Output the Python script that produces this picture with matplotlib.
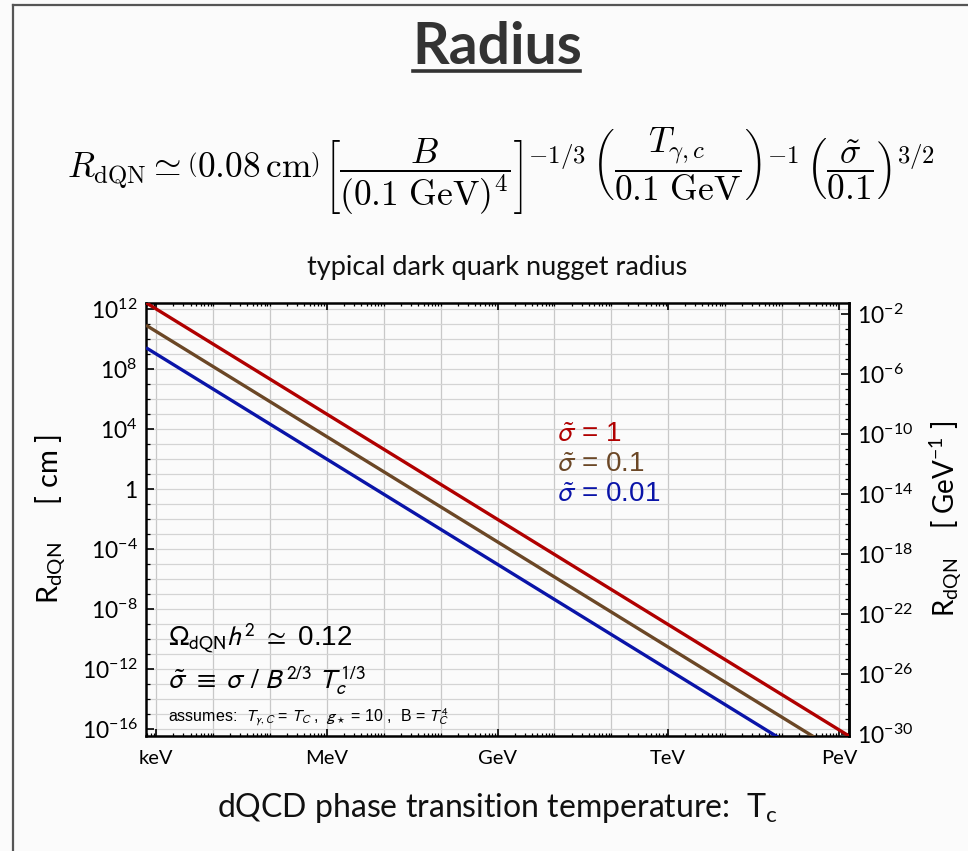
import matplotlib
matplotlib.use("Agg")
from matplotlib import pyplot as plt
from matplotlib import ticker
from matplotlib.lines import Line2D

plt.rcParams['mathtext.fontset'] = 'custom'
plt.rcParams['mathtext.rm'] = 'Lato'
plt.rcParams['mathtext.it'] = 'Lato:italic'
plt.rcParams['mathtext.bf'] = 'Lato:bold'
plt.rcParams['font.family'] = ['Lato', 'DejaVu Sans']

# data (Tc in GeV, R in cm), values at the plot edges
t_edges = [6.6e-7, 1.51e6]
r_sigma_1 = [2.75e12, 3.5e-17]
r_sigma_01 = [8.7e10, 1.1e-18]
r_sigma_001 = [2.75e9, 3.5e-20]
series_labels = [r'$\tilde{\sigma}$ = 1', r'$\tilde{\sigma}$ = 0.1', r'$\tilde{\sigma}$ = 0.01']
series_colors = ['#b00000', '#6b4726', '#0a14a8']

x_ticks = [1e-6, 1e-3, 1.0, 1e3, 1e6]
x_tick_labels = ['keV', 'MeV', 'GeV', 'TeV', 'PeV']
y_ticks = [1e12, 1e8, 1e4, 1.0, 1e-4, 1e-8, 1e-12, 1e-16]
y_tick_labels = [r'$\mathregular{10^{12}}$', r'$\mathregular{10^{8}}$', r'$\mathregular{10^{4}}$', '1',
                 r'$\mathregular{10^{-4}}$', r'$\mathregular{10^{-8}}$', r'$\mathregular{10^{-12}}$',
                 r'$\mathregular{10^{-16}}$']
y2_ticks = [1e-2, 1e-6, 1e-10, 1e-14, 1e-18, 1e-22, 1e-26, 1e-30]
cm_to_gev_inv = 1.97e-14

bg = '#fbfbfb'
fig = plt.figure(figsize=(9.68, 8.51), dpi=100, facecolor=bg)

# slide frame
fig.add_artist(Line2D([13 / 968, 13 / 968], [0, 1 - 5 / 851], color='#555555', lw=1.6))
fig.add_artist(Line2D([13 / 968, 1], [1 - 5 / 851, 1 - 5 / 851], color='#555555', lw=1.6))

# title with underline
fig.text(497 / 968, 1 - 47 / 851, 'Radius', ha='center', va='center', fontsize=41,
         fontweight='bold', color='#333333')
fig.add_artist(Line2D([413 / 968, 580 / 968], [1 - 71 / 851, 1 - 71 / 851], color='#333333', lw=2.6))

formula = (r'$R_{\rm dQN} \simeq \left(0.08\,{\rm cm}\right)\,'
           r'\left[\dfrac{B}{(0.1\ {\rm GeV})^4}\right]^{-1/3}\,'
           r'\left(\dfrac{T_{\gamma,c}}{0.1\ {\rm GeV}}\right)^{-1}\,'
           r'\left(\dfrac{\tilde{\sigma}}{0.1}\right)^{3/2}$')
fig.text(501 / 968, 1 - 171 / 851, formula, ha='center', va='center', fontsize=25.5,
         math_fontfamily='cm', color='black')

fig.text(497 / 968, 1 - 268 / 851, 'typical dark quark nugget radius', ha='center', va='center',
         fontsize=19.5, color='#111111')

ax = fig.add_axes([146 / 968, 1 - 736 / 851, 703 / 968, 433.3 / 851])
ax.set_facecolor(bg)
ax.set_xscale('log')
ax.set_yscale('log')
ax.set_xlim(t_edges[0], t_edges[1])
ax.set_ylim(3.5e-17, 2.75e12)

for e in range(-6, 7):
    ax.axvline(10.0 ** e, color='#c8c8c8', lw=0.9, zorder=0)
for e in range(-16, 13):
    ax.axhline(10.0 ** e, color='#d4d4d4', lw=0.9, zorder=0)

for r_vals, col in zip([r_sigma_1, r_sigma_01, r_sigma_001], series_colors):
    ax.plot(t_edges, r_vals, color=col, lw=2.4, solid_capstyle='butt', zorder=3)

ax.set_xticks(x_ticks)
ax.set_xticklabels(x_tick_labels)
ax.xaxis.set_minor_locator(ticker.LogLocator(base=10, subs=range(1, 10), numticks=100))
ax.xaxis.set_minor_formatter(ticker.NullFormatter())
ax.set_yticks(y_ticks)
ax.set_yticklabels(y_tick_labels)
ax.yaxis.set_minor_locator(ticker.FixedLocator([10.0 ** e for e in range(-16, 13)]))
ax.yaxis.set_minor_formatter(ticker.NullFormatter())
ax.tick_params(axis='x', which='both', direction='in', top=True, bottom=True, labelsize=14.5, pad=10)
ax.tick_params(axis='x', which='major', length=5, width=1.2)
ax.tick_params(axis='x', which='minor', length=2.5, width=0.9)
ax.tick_params(axis='y', which='both', direction='in', left=True, right=False, labelsize=16.5, pad=6)
ax.tick_params(axis='y', which='major', length=6, width=1.2)
ax.tick_params(axis='y', which='minor', length=3, width=0.9)
for sp in ax.spines.values():
    sp.set_linewidth(1.8)

ax.set_ylabel(r'R$_{\mathregular{dQN}}$     [ cm ]', fontsize=21, labelpad=10)

sec = ax.secondary_yaxis('right', functions=(lambda r: r * cm_to_gev_inv, lambda r: r / cm_to_gev_inv))
sec.set_yticks(y2_ticks)
sec.set_yticklabels([r'$\mathregular{10^{%d}}$' % e for e in range(-2, -31, -4)])
sec.yaxis.set_minor_locator(ticker.FixedLocator([10.0 ** e for e in range(-30, -1)]))
sec.yaxis.set_minor_formatter(ticker.NullFormatter())
sec.tick_params(which='both', direction='in', labelsize=16.5, pad=6)
sec.tick_params(which='major', length=6, width=1.2)
sec.tick_params(which='minor', length=3, width=0.9)
sec.spines['right'].set_linewidth(1.8)
sec.set_ylabel(r'R$_{\mathregular{dQN}}$    [ GeV$^{\mathregular{-1}}$ ]', fontsize=20, labelpad=10)

# legend labels placed inside the axes
for i, (lab, col) in enumerate(zip(series_labels, series_colors)):
    ax.text(0.585, 0.695 - i * 0.069, lab, transform=ax.transAxes, color=col, fontsize=20,
            family=['Liberation Sans'], math_fontfamily='stixsans', va='center', ha='left')

ax.text(0.031, 0.228, r'$\Omega_{\rm dQN}h^2$ $\simeq$ 0.12', transform=ax.transAxes, fontsize=20,
        family=['Liberation Sans'], math_fontfamily='stixsans', va='center')
ax.text(0.031, 0.128, r'$\tilde{\sigma}\ \equiv\ \sigma\ /\ B^{2/3}\ T_c^{1/3}$', transform=ax.transAxes,
        fontsize=20, family=['Liberation Sans'], math_fontfamily='stixsans', va='center')
ax.text(0.031, 0.044, r'assumes:  $T_{\gamma,C}$ = $T_C$ ,  $g_\star$ = 10 ,  B = $T_C^4$',
        transform=ax.transAxes, fontsize=11.5, family=['Liberation Sans'], math_fontfamily='stixsans',
        va='center')

fig.text(497 / 968, 1 - 808 / 851, r'dQCD phase transition temperature:  T$_{\mathregular{c}}$',
         ha='center', va='center', fontsize=23, color='#111111')

fig.savefig('out.png', dpi=100, facecolor=bg)
